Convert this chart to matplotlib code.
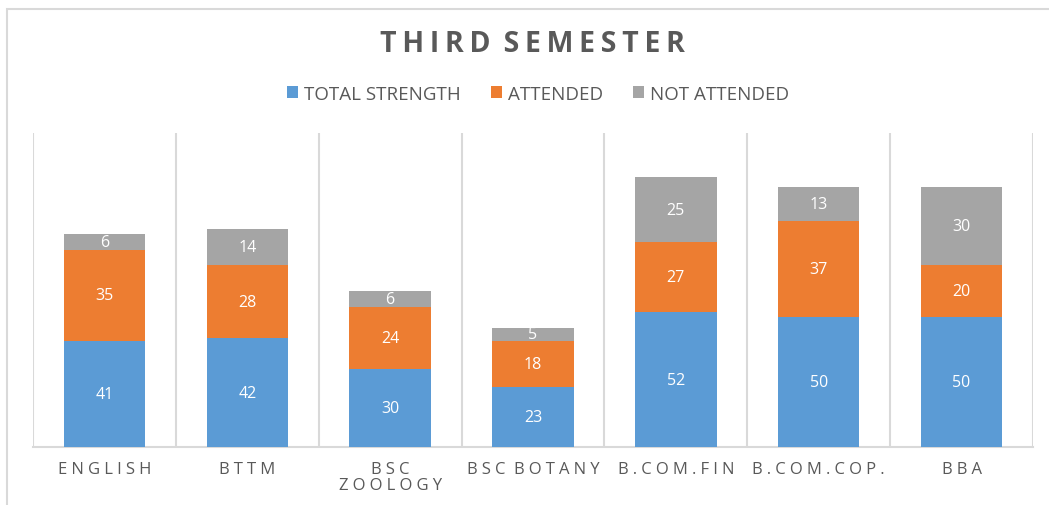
import numpy as np
import matplotlib.pyplot as plt
from matplotlib.patches import Rectangle

# chart data
categories = ["ENGLISH", "BTTM", "BSC\nZOOLOGY", "BSC BOTANY", "B.COM.FIN", "B.COM.COP.", "BBA"]
total_strength = [41, 42, 30, 23, 52, 50, 50]
attended = [35, 28, 24, 18, 27, 37, 20]
not_attended = [6, 14, 6, 5, 25, 13, 30]

series = [
    ("TOTAL STRENGTH", total_strength, "#5B9BD5"),
    ("ATTENDED", attended, "#ED7D31"),
    ("NOT ATTENDED", not_attended, "#A5A5A5"),
]

text_color = "#595959"
plt.rcParams['font.family'] = ['Open Sans', 'DejaVu Sans']


def spaced(s, gap):
    """Widen the letter spacing of a label the way the spreadsheet chart does."""
    lines = []
    for line in s.split("\n"):
        words = [gap.join(w) for w in line.split(" ")]
        lines.append((gap + " ").join(words))
    return "\n".join(lines)


fig = plt.figure(figsize=(10.49, 5.06), dpi=100)
ax = fig.add_axes([33 / 1049, 1 - 448 / 506, 1000 / 1049, 314 / 506])

# outer chart border (cut off at right and bottom like the reference)
fig.patches.append(Rectangle((7 / 1049, -0.2), 1.2, 1.2 - 10 / 506, transform=fig.transFigure,
                             fill=False, edgecolor="#D9D9D9", linewidth=1.5, zorder=0))

x = np.arange(len(categories))
bottom = np.zeros(len(categories))
for name, vals, color in series:
    vals = np.array(vals, dtype=float)
    bars = ax.bar(x, vals, width=0.57, bottom=bottom, color=color, label=name, zorder=3)
    for b, v, b0 in zip(bars, vals, bottom):
        ax.text(b.get_x() + b.get_width() / 2, b0 + v / 2, f"{int(v)}", ha="center", va="center",
                color="white", fontsize=11.5, zorder=4)
    bottom += vals

ax.set_xlim(-0.5, len(categories) - 0.5)
ax.set_ylim(0, 121)
ax.set_yticks([])
ax.set_xticks(x)
ax.set_xticklabels([spaced(c, "\u2005") for c in categories], fontsize=12, color=text_color,
                   linespacing=1.0)
ax.set_xticks(np.arange(-0.5, len(categories)), minor=True)
ax.tick_params(axis="x", which="both", length=0, pad=10)
ax.grid(axis="x", which="minor", color="#D9D9D9", linewidth=1.5, zorder=0)
ax.grid(axis="x", which="major", visible=False)
for side in ["top", "left", "right"]:
    ax.spines[side].set_visible(False)
ax.spines["bottom"].set_color("#D9D9D9")
ax.spines["bottom"].set_linewidth(1.5)

fig.text(532 / 1049, 1 - 45 / 506, spaced("THIRD SEMESTER", "\u2009"), ha="center", va="center",
         fontsize=20.5, fontweight="bold", color=text_color)

handles, labels = ax.get_legend_handles_labels()
fig.legend(handles, labels, loc="center", bbox_to_anchor=(538 / 1049, 1 - 95 / 506), ncol=3,
           frameon=False, fontsize=13.5, labelcolor=text_color, handlelength=0.6, handleheight=0.6,
           handletextpad=0.3, columnspacing=1.6)

fig.savefig("out.png", dpi=100)
